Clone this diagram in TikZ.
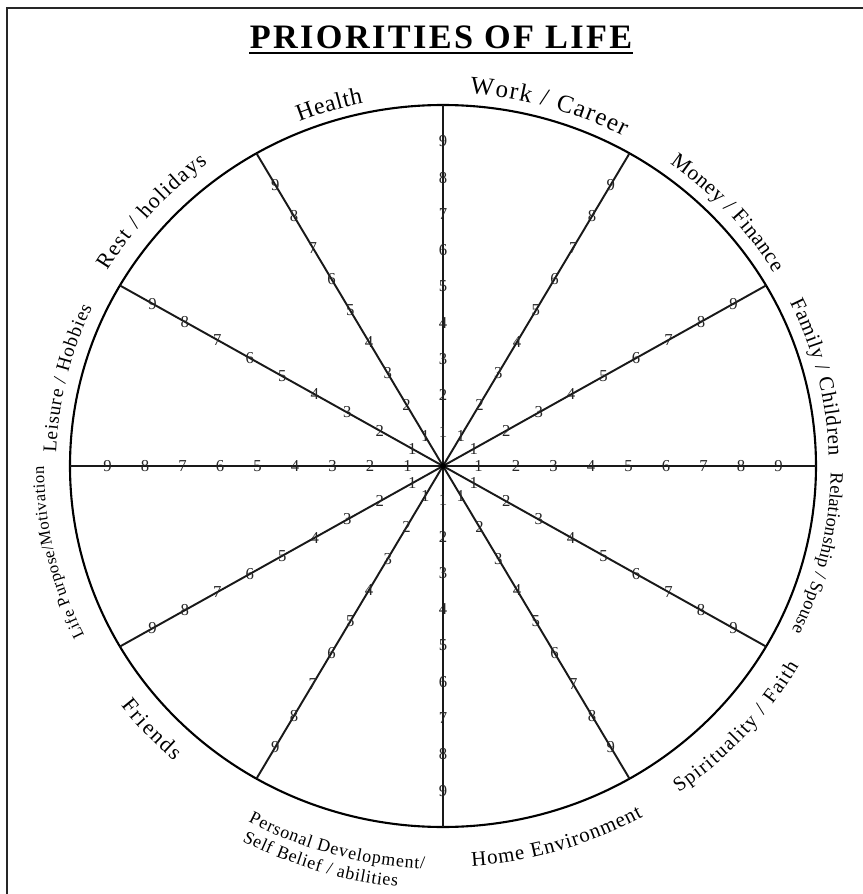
\documentclass[tikz,border=0pt]{standalone}
\usepackage{fontspec}
\setmainfont{Liberation Serif}
\usetikzlibrary{decorations.text,calc}
\newcommand\ringlab[5]{%
  \path[decorate,decoration={text along path,text align={fit to path},
    text={|\fontsize{#4}{#4}\selectfont|#5}}]
    (#1:{373+#3} and {361+#3}) arc[start angle=#1,end angle=#2,x radius={373+#3},y radius={361+#3}];}
\begin{document}
\begin{tikzpicture}[x=0.02cm,y=0.02cm,
  spoke/.style={line width=1.1pt,black!90},
  rim/.style={line width=1.2pt},
  frameline/.style={line width=1.7pt,black!85},
  numlbl/.style={inner sep=0pt,font=\fontsize{9.5}{9.5}\selectfont,text=black!85},
  titlestyle/.style={inner sep=0pt,anchor=base,font=\fontsize{19.5}{19.5}\selectfont\bfseries\addfontfeatures{LetterSpace=7}}]
\useasboundingbox (-443,466) rectangle (420,-428);
% frame (left and top edges visible)
\coordinate (fbl) at (-436,-440);
\coordinate (ftl) at (-436,458);
\coordinate (ftr) at (430,458);
\draw[frameline] (fbl) -- (ftl) -- (ftr);
% title
\node[titlestyle] (title) at (-2,418) {PRIORITIES OF LIFE};
\draw[line width=1.7pt] ($(title.base west)+(0,-5)$) -- ($(title.base east)+(0,-5)$);
% wheel
\coordinate (O) at (0,0);
\draw[rim] (O) ellipse [x radius=373,y radius=361];
\foreach \a in {0,30,...,330}{
  \coordinate (e\a) at (\a:373 and 361);
  \draw[spoke] (O) -- (e\a);
  \foreach \k in {1,...,9}{
    \node[numlbl] (n\a-\k) at (\a:{37.5*\k-2} and {(37.5*\k-2)*0.968}) {\k};
  }
}
\fill (O) circle (3);
% labels
\ringlab{86}{62}{12}{14.2}{Work / Career}
\ringlab{112}{102}{10}{13.6}{Health}
\ringlab{149}{127}{18}{12.5}{Rest / holidays}
\ringlab{178}{155}{14}{11}{Leisure / Hobbies}
\ringlab{206}{180}{26}{9.5}{Life Purpose/Motivation}
\ringlab{54}{31}{13}{12.2}{Money / Finance}
\ringlab{26}{1.5}{13}{11.9}{Family / Children}
\ringlab{-1}{-26}{15}{10.5}{Relationship / Spouse}
\ringlab{-55}{-30}{38}{11.5}{Spirituality / Faith}
\ringlab{-86}{-61}{40}{11.9}{Home Environment}
\ringlab{-118}{-92.5}{42}{10.2}{Personal Development/}
\ringlab{-117.5}{-96}{62}{10.2}{Self Belief / abilities}
\ringlab{-142.5}{-131.5}{33}{12.5}{Friends}
\end{tikzpicture}
\end{document}
